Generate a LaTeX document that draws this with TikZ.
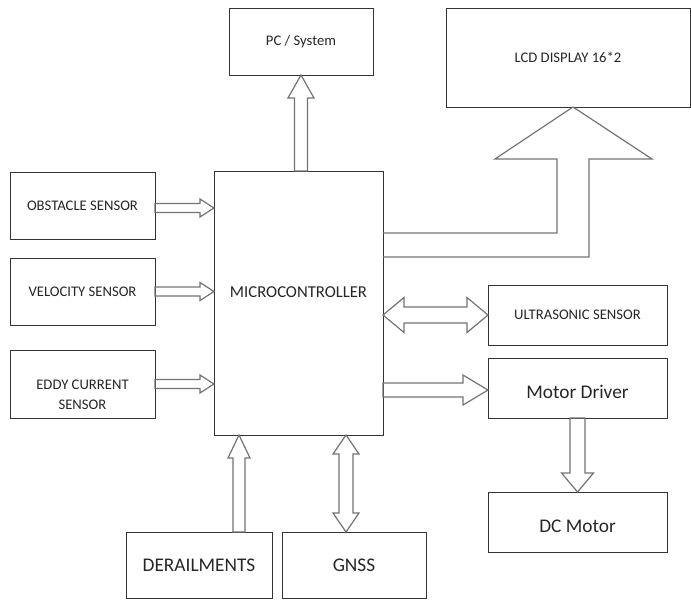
\documentclass[tikz,border=0pt]{standalone}
\usepackage{fontspec}
\setmainfont{Carlito}
\usetikzlibrary{calc}

% block arrow: from, to, half shaft, half head, head length (px)
\newcommand\fatarrow[5]{%
  \coordinate (fa) at ($(#2)!#5*0.75pt!(#1)$);
  \draw[fat] ($(#1)!#3*0.75pt!90:(#2)$) -- ($(fa)!#3*0.75pt!90:(#2)$)
    -- ($(fa)!#4*0.75pt!90:(#2)$) -- (#2)
    -- ($(fa)!#4*0.75pt!-90:(#2)$) -- ($(fa)!#3*0.75pt!-90:(#2)$)
    -- ($(#1)!#3*0.75pt!-90:(#2)$) -- cycle;}
% block arrow with two heads
\newcommand\fatdarrow[5]{%
  \coordinate (fa) at ($(#1)!#5*0.75pt!(#2)$);
  \coordinate (fb) at ($(#2)!#5*0.75pt!(#1)$);
  \draw[fat] (#1) -- ($(fa)!#4*0.75pt!90:(#2)$) -- ($(fa)!#3*0.75pt!90:(#2)$)
    -- ($(fb)!#3*0.75pt!90:(#2)$) -- ($(fb)!#4*0.75pt!90:(#2)$) -- (#2)
    -- ($(fb)!#4*0.75pt!-90:(#2)$) -- ($(fb)!#3*0.75pt!-90:(#2)$)
    -- ($(fa)!#3*0.75pt!-90:(#2)$) -- ($(fa)!#4*0.75pt!-90:(#2)$) -- cycle;}

\begin{document}
\begin{tikzpicture}[
    x=0.75pt,
    y=-0.75pt,
    font=\fontsize{11}{13.5}\selectfont,
    text=black!85,
    box/.style 2 args={draw=black!80,line width=0.75pt,inner sep=0pt,outer sep=0pt,
        align=center,minimum width=#1*0.75pt,minimum height=#2*0.75pt},
    big/.style={font=\fontsize{14.5}{17}\selectfont},
    fat/.style={draw=black!55,line width=0.9pt,line join=miter}
]
    \useasboundingbox (0,0) rectangle (691,600);

    \node[box={144}{67}] (pc) at (301,41.5) {PC / System};
    \node[box={244}{99}] (lcd) at (568,57.5) {LCD DISPLAY 16*2};
    \node[box={145}{67}] (obs) at (82.5,205.5) {OBSTACLE SENSOR};
    \node[box={145}{67}] (vel) at (82.5,291.5) {VELOCITY SENSOR};
    \node[box={145}{68}] (eddy) at (82.5,384) {\rule{0pt}{24pt}EDDY CURRENT\\[1.5pt]SENSOR};
    \node[box={169}{264},font=\fontsize{12.5}{15}\selectfont,text depth=16.5pt] (mcu) at (298.5,303) {MICROCONTROLLER};
    \node[box={179}{60}] (ultra) at (577.5,315) {ULTRASONIC SENSOR};
    \node[box={179}{60},big] (md) at (577.5,388) {\rule{0pt}{15.5pt}Motor Driver};
    \node[box={179}{60},big] (dcm) at (577.5,522) {\rule{0pt}{15.5pt}DC Motor};
    \node[box={146}{66},big] (derail) at (199,565) {DERAILMENTS};
    \node[box={144}{66},big] (gnss) at (354,565) {GNSS};

    % sensors into the controller
    \coordinate (obs-out) at ($(obs.east)+(0,2.5)$);
    \coordinate (obs-in) at (obs-out -| mcu.west);
    \coordinate (vel-in) at (vel.east -| mcu.west);
    \coordinate (eddy-in) at (eddy.east -| mcu.west);
    \fatarrow{obs-out}{obs-in}{4.5}{9}{14}
    \fatarrow{vel.east}{vel-in}{4.5}{9}{14}
    \fatarrow{eddy.east}{eddy-in}{4.5}{9}{14}

    % outputs
    \coordinate (pc-out) at (pc.south |- mcu.north);
    \fatarrow{pc-out}{pc.south}{6.5}{13}{23}
    \coordinate (us-out) at (ultra.west -| mcu.east);
    \fatdarrow{us-out}{ultra.west}{8}{17.5}{21}
    \coordinate (md-in) at ($(md.west)+(0,2)$);
    \coordinate (md-out) at (md-in -| mcu.east);
    \fatarrow{md-out}{md-in}{7}{15}{25}
    \fatarrow{md.south}{dcm.north}{7.5}{16}{19}

    % bottom inputs
    \coordinate (dr-top) at ($(mcu.south west)+(25,0)$);
    \coordinate (dr-bot) at (dr-top |- derail.north);
    \fatarrow{dr-bot}{dr-top}{6}{11}{23}
    \coordinate (gn-top) at ($(mcu.south)+(47.5,0)$);
    \coordinate (gn-bot) at (gn-top |- gnss.north);
    \fatdarrow{gn-top}{gn-bot}{7}{13}{19}

    % bent arrow to the display
    \coordinate (lcd-in) at ($(lcd.south)+(5,0)$);
    \draw[fat] ($(mcu.north east)+(0,62)$) -- ($(lcd-in)+(-16,126)$)
        -- ($(lcd-in)+(-16,52)$) -- ($(lcd-in)+(-78,52)$) -- (lcd-in)
        -- ($(lcd-in)+(79,52)$) -- ($(lcd-in)+(16,52)$)
        -- ($(lcd-in)+(16,150)$) -- ($(mcu.north east)+(0,86)$);
\end{tikzpicture}
\end{document}
